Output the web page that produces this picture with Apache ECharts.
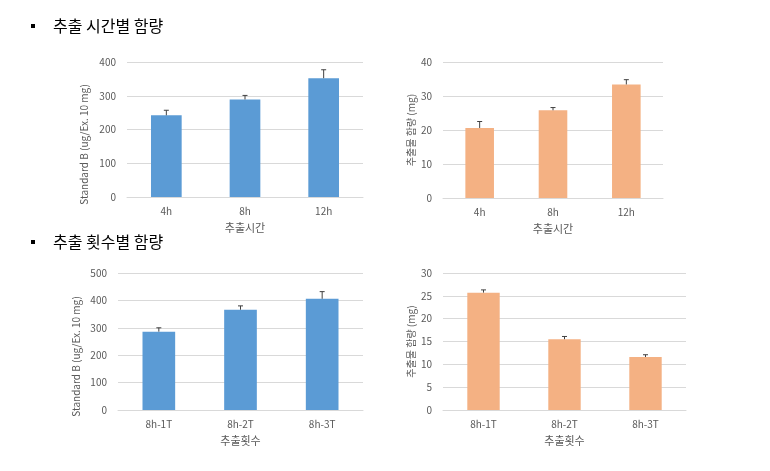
<!DOCTYPE html>
<html>
<head>
<meta charset="utf-8">
<script src="https://cdn.jsdelivr.net/npm/echarts@6/dist/echarts.min.js"></script>
<style>
html,body{margin:0;padding:0;background:#ffffff;}
#c{width:770px;height:471px;}
</style>
</head>
<body>
<div id="c"></div>
<script>
// ---- data ----
var timeCats = ['4h', '8h', '12h'];
var timeStd = [242, 289, 352];
var timeStdErr = [15, 12, 25];
var timeExt = [20.6, 25.8, 33.4];
var timeExtErr = [1.9, 0.8, 1.4];

var countCats = ['8h-1T', '8h-2T', '8h-3T'];
var countStd = [286, 366, 406];
var countStdErr = [14, 14, 26];
var countExt = [25.7, 15.5, 11.6];
var countExtErr = [0.6, 0.6, 0.5];

var titleTime = '추출 시간별 함량';
var titleCount = '추출 횟수별 함량';
var stdName = 'Standard B (ug/Ex. 10 mg)';
var extName = '추출물 함량 (mg)';
var timeAxisName = '추출시간';
var countAxisName = '추출횟수';

var yTicks = [
  {max: 400, interval: 100},
  {max: 40, interval: 10},
  {max: 500, interval: 100},
  {max: 30, interval: 5}
];

// ---- styles ----
var BLUE = '#5b9bd5';
var ORANGE = '#f4b183';
var FONT = '"Noto Sans CJK KR", "Noto Sans", sans-serif';
var LABEL = '#595959';
var GRIDLINE = '#d9d9d9';

var chart = echarts.init(document.getElementById('c'), null, {renderer: 'canvas'});

var grids = [
  {left: 127, top: 62, width: 236, height: 135},
  {left: 443, top: 62, width: 220, height: 136},
  {left: 118, top: 273, width: 245, height: 137},
  {left: 443, top: 273, width: 243, height: 137}
];

var cats = [timeCats, timeCats, countCats, countCats];
var vals = [timeStd, timeExt, countStd, countExt];
var errs = [timeStdErr, timeExtErr, countStdErr, countExtErr];
var colors = [BLUE, ORANGE, BLUE, ORANGE];
var yNames = [stdName, extName, stdName, extName];
var xNames = [timeAxisName, timeAxisName, countAxisName, countAxisName];
var barW = ['39%', '39%', '40%', '40%'];
var yNameGaps = [38, 27, 37, 27];
var yNamePad = [[0, 30, 0, 0], 0, [0, 30, 0, 0], 0];

var xAxes = [], yAxes = [], series = [];
for (var i = 0; i < 4; i++) {
  xAxes.push({
    type: 'category', gridIndex: i, data: cats[i],
    axisLine: {lineStyle: {color: GRIDLINE}},
    axisTick: {show: false},
    axisLabel: {color: LABEL, fontSize: 10, fontFamily: FONT, margin: 9},
    name: xNames[i], nameLocation: 'middle', nameGap: 25,
    nameTextStyle: {color: LABEL, fontSize: 11, fontFamily: FONT}
  });
  yAxes.push({
    type: 'value', gridIndex: i, min: 0, max: yTicks[i].max, interval: yTicks[i].interval,
    axisLine: {show: false}, axisTick: {show: false},
    splitLine: {lineStyle: {color: GRIDLINE}},
    axisLabel: {color: LABEL, fontSize: 10, fontFamily: FONT, margin: 11},
    name: yNames[i], nameLocation: 'middle', nameGap: yNameGaps[i], nameRotate: 90,
    nameTextStyle: {color: LABEL, fontSize: 10, fontFamily: FONT, padding: yNamePad[i]}
  });
  series.push({
    type: 'bar', xAxisIndex: i, yAxisIndex: i, data: vals[i],
    barWidth: barW[i], itemStyle: {color: colors[i]}, silent: true
  });
  (function (idx) {
    series.push({
      type: 'custom', xAxisIndex: idx, yAxisIndex: idx,
      data: vals[idx].map(function (v, k) { return [k, v, v + errs[idx][k]]; }),
      renderItem: function (params, api) {
        var base = api.coord([api.value(0), api.value(1)]);
        var top = api.coord([api.value(0), api.value(2)]);
        var c = 2.5;
        return {
          type: 'group',
          children: [
            {type: 'line', shape: {x1: base[0], y1: base[1], x2: top[0], y2: top[1]},
             style: {stroke: '#404040', lineWidth: 1}},
            {type: 'line', shape: {x1: top[0] - c, y1: top[1], x2: top[0] + c, y2: top[1]},
             style: {stroke: '#404040', lineWidth: 1}}
          ]
        };
      },
      z: 10, silent: true
    });
  })(i);
}

chart.setOption({
  animation: false,
  backgroundColor: '#ffffff',
  grid: grids,
  xAxis: xAxes,
  yAxis: yAxes,
  series: series,
  graphic: [
    {type: 'rect', left: 31, top: 24, shape: {width: 4, height: 4}, style: {fill: '#000'}},
    {type: 'text', left: 53, top: 18, style: {text: titleTime, font: '16px ' + FONT, fill: '#000'}},
    {type: 'rect', left: 31, top: 240, shape: {width: 4, height: 4}, style: {fill: '#000'}},
    {type: 'text', left: 53, top: 234, style: {text: titleCount, font: '16px ' + FONT, fill: '#000'}}
  ]
});
</script>
</body>
</html>
